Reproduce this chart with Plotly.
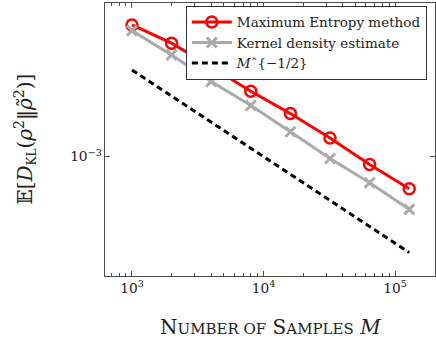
import plotly.graph_objects as go

# Data
samples = [1000, 2000, 4000, 8000, 16000, 32000, 64000, 128000]
maxent = [5.75e-3, 4.51e-3, 3.30e-3, 2.38e-3, 1.77e-3, 1.28e-3, 9.0e-4, 6.52e-4]
kde = [5.33e-3, 3.86e-3, 2.71e-3, 1.97e-3, 1.39e-3, 9.74e-4, 7.06e-4, 4.96e-4]
ref_x = [1000, 128000]
ref_y = [0.1 * m ** -0.5 for m in ref_x]

SERIF = "DejaVu Serif, Liberation Serif, serif"
AX = "#4d4d4d"

fig = go.Figure()
fig.add_trace(go.Scatter(
    x=samples, y=maxent, mode="lines+markers", name="Maximum Entropy method",
    line=dict(color="#ff0000", width=3),
    marker=dict(symbol="circle-open", size=11, color="#ff0000", line=dict(width=2.5, color="#ff0000")),
))
fig.add_trace(go.Scatter(
    x=samples, y=kde, mode="lines+markers", name="Kernel density estimate",
    line=dict(color="#aaaaaa", width=3),
    marker=dict(symbol="x-thin-open", size=10, color="#aaaaaa", line=dict(width=3, color="#aaaaaa")),
))
fig.add_trace(go.Scatter(
    x=ref_x, y=ref_y, mode="lines", name="<i>M</i>ˆ{−1/2}",
    line=dict(color="black", width=3, dash="6px,4px"),
))

fig.update_layout(
    width=436, height=343,
    margin=dict(l=105, r=1, t=3, b=67),
    paper_bgcolor="white", plot_bgcolor="white",
    font=dict(family=SERIF, color="black", size=11),
    showlegend=True,
    legend=dict(
        x=0.245, y=0.99, xanchor="left", yanchor="top",
        bgcolor="white", bordercolor="#333333", borderwidth=1,
        font=dict(family=SERIF, size=13.5, color="#222222"),
        tracegroupgap=0, itemwidth=40,
    ),
    xaxis=dict(
        type="log", range=[2.795, 5.303], dtick=1, exponentformat="power",
        showgrid=False, zeroline=False,
        showline=True, linecolor=AX, linewidth=1, mirror="allticks",
        ticks="inside", ticklen=5, tickcolor=AX, tickwidth=1,
        tickfont=dict(family=SERIF, size=11, color="#222222"),
        minor=dict(ticks="inside", ticklen=3, tickcolor=AX, tickwidth=1, dtick="D1", showgrid=False),
    ),
    yaxis=dict(
        type="log", range=[-3.689, -2.114], dtick=1, exponentformat="power",
        showgrid=False, zeroline=False,
        showline=True, linecolor=AX, linewidth=1, mirror="allticks",
        ticks="inside", ticklen=5, tickcolor=AX, tickwidth=1,
        tickfont=dict(family=SERIF, size=11, color="#222222"),
    ),
    annotations=[
        dict(
            text="N<span style='font-size:15px'>UMBER OF</span> S<span style='font-size:15px'>AMPLES</span> <i>M</i>",
            xref="paper", yref="paper", x=0.5, y=-0.187, xanchor="center", yanchor="middle",
            showarrow=False, font=dict(family=SERIF, size=20, color="#222222"),
        ),
        dict(
            text="𝔼[<i>D</i><sub><span style='font-size:12px'>KL</span></sub>(<i>ρ</i><sup>2</sup>‖<i>ρ̃</i><sup>2</sup>)]",
            xref="paper", yref="paper", x=-0.2424, y=0.5, xanchor="center", yanchor="middle",
            textangle=-90, showarrow=False, font=dict(family=SERIF, size=20, color="#222222"),
        ),
    ],
)

fig.write_html("out.html")
